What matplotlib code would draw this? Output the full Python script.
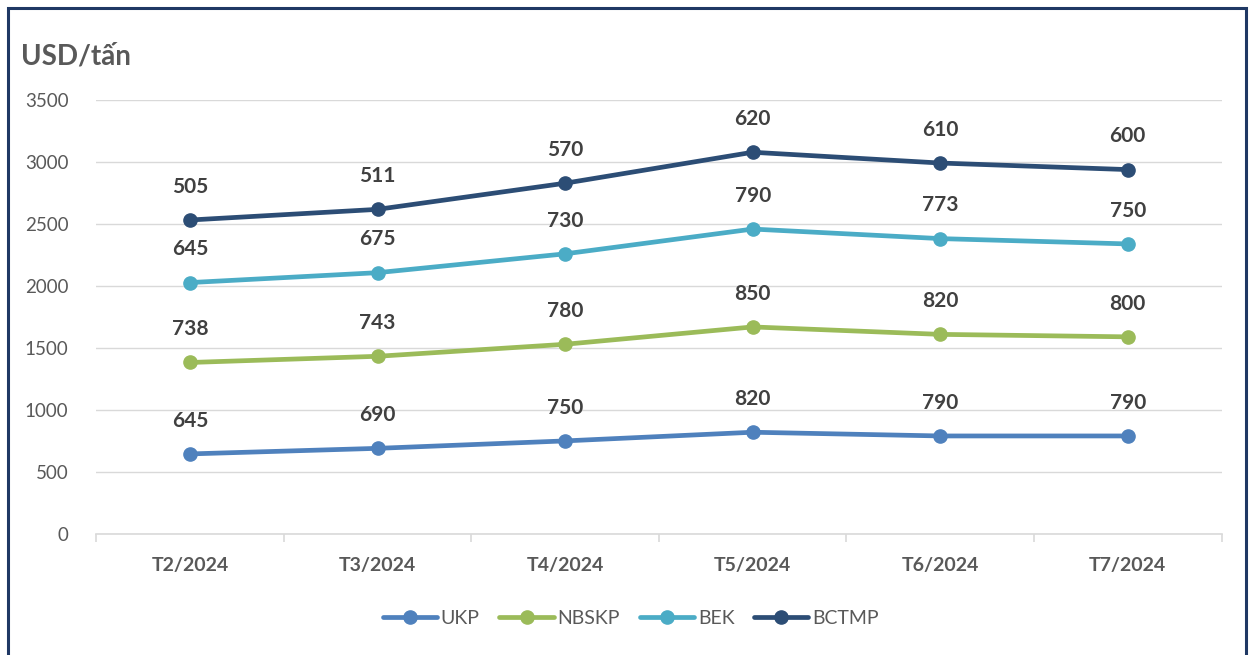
import matplotlib
matplotlib.use('Agg')
import matplotlib.pyplot as plt
from matplotlib.patches import Rectangle
import numpy as np

plt.rcParams['font.family'] = ['Lato', 'DejaVu Sans']

# dữ liệu (giá USD/tấn, biểu đồ dạng cộng dồn)
months = ['T2/2024', 'T3/2024', 'T4/2024', 'T5/2024', 'T6/2024', 'T7/2024']
ukp = [645, 690, 750, 820, 790, 790]
nbskp = [738, 743, 780, 850, 820, 800]
bek = [645, 675, 730, 790, 773, 750]
bctmp = [505, 511, 570, 620, 610, 600]

series = [('UKP', ukp, '#4f81bd'),
          ('NBSKP', nbskp, '#9bbb59'),
          ('BEK', bek, '#4bacc6'),
          ('BCTMP', bctmp, '#2c4d75')]

fig = plt.figure(figsize=(12.49, 6.55), dpi=100)
ax = fig.add_axes([0.077, 0.185, 0.901, 0.662])

x = np.arange(len(months))
base = np.zeros(len(months))
for name, vals, color in series:
    cum = base + np.array(vals)
    ax.plot(x, cum, color=color, lw=3.4, marker='o', markersize=9.5,
            solid_capstyle='round', label=name, zorder=3)
    for xi, yi, v in zip(x, cum, vals):
        ax.annotate(str(v), (xi, yi), xytext=(0, 24), textcoords='offset points',
                    ha='center', va='center', fontsize=15, fontweight='bold',
                    color='#404040')
    base = cum

ax.set_xlim(-0.5, len(months) - 0.5)
ax.set_ylim(0, 3500)
ax.set_yticks(range(0, 3501, 500))
ax.grid(axis='y', color='#d9d9d9', lw=1)
ax.set_axisbelow(True)
for s in ['top', 'right', 'left']:
    ax.spines[s].set_visible(False)
ax.spines['bottom'].set_color('#d9d9d9')
ax.spines['bottom'].set_linewidth(1.2)

ax.set_xticks(x)
ax.set_xticklabels(months, fontsize=14, fontweight='bold', color='#595959')
ax.tick_params(axis='x', length=0, pad=17)
ax.set_xticks(np.arange(-0.5, len(months)), minor=True)
ax.tick_params(axis='x', which='minor', length=6, color='#d9d9d9', width=1.2)
ax.tick_params(axis='y', length=0, labelsize=13.5, labelcolor='#595959', pad=20)

fig.text(0.017, 0.913, 'USD/tấn', fontsize=20, fontweight='bold', color='#595959',
         ha='left', va='center')

ax.legend(loc='center', bbox_to_anchor=(0.475, -0.195), ncol=4, frameon=False,
          fontsize=14, labelcolor='#595959', handlelength=2.8, columnspacing=1.0,
          handletextpad=0.2)

# khung viền
fig.patches.append(Rectangle((0.0065, -0.05), 0.991, 1.038, transform=fig.transFigure,
                             fill=False, edgecolor='#1f3864', lw=2.2))

plt.savefig('out.png', dpi=100)
